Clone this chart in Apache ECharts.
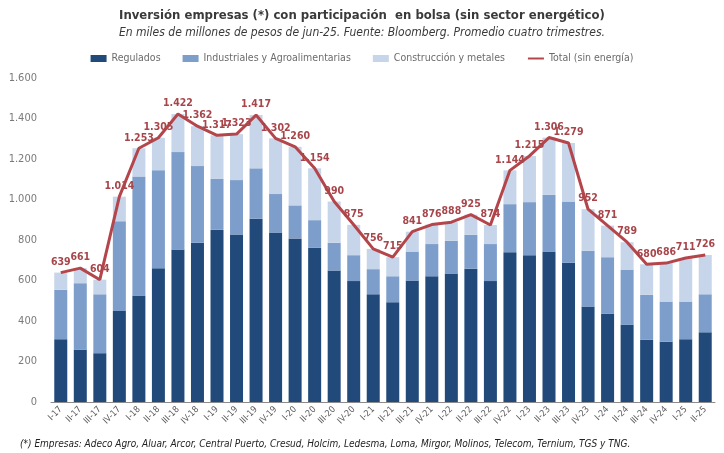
<!DOCTYPE html>
<html>
<head>
<meta charset="utf-8">
<title>Inversión empresas con participación en bolsa</title>
<script src="https://cdn.jsdelivr.net/npm/echarts@6/dist/echarts.min.js"></script>
<style>
    html, body { margin: 0; padding: 0; background: #fff; }
    #main { width: 724px; height: 453px; }
</style>
</head>
<body>
<div id="main"></div>
<script>
    // trimestres
    var categorias = ['I-17','II-17','III-17','IV-17','I-18','II-18','III-18','IV-18','I-19','II-19','III-19','IV-19',
        'I-20','II-20','III-20','IV-20','I-21','II-21','III-21','IV-21','I-22','II-22','III-22','IV-22',
        'I-23','II-23','III-23','IV-23','I-24','II-24','III-24','IV-24','I-25','II-25'];

    var regulados = [310,259,241,450,526,661,753,786,850,827,905,837,808,761,649,597,532,493,600,621,634,658,597,740,
        725,743,687,471,435,381,307,298,310,344];

    var industriales = [244,328,291,443,588,484,481,379,253,269,249,190,163,137,137,128,124,128,143,159,162,168,183,237,
        262,280,303,276,280,273,222,198,186,188];

    var total = [639,661,604,1014,1253,1305,1422,1362,1317,1323,1417,1302,1260,1154,990,875,756,715,841,876,888,925,874,1144,
        1215,1306,1279,952,871,789,680,686,711,726];

    // construccion = total - regulados - industriales
    var construccion = [];
    for (var i = 0; i < total.length; i++) {
        construccion.push(total[i] - regulados[i] - industriales[i]);
    }

    function miles(v) {
        return String(v).replace(/\B(?=(\d{3})+(?!\d))/g, '.');
    }

    var fuente = "'Liberation Sans Narrow', 'DejaVu Sans Condensed', sans-serif";

    var myChart = echarts.init(document.getElementById('main'));

    var option = {
        backgroundColor: '#ffffff',
        textStyle: { fontFamily: fuente },
        title: [
            {
                text: 'Inversión empresas (*) con participación  en bolsa (sin sector energético)',
                left: 'center',
                top: 4,
                textStyle: { fontSize: 13, fontWeight: 'bold', color: '#3a3a3a', fontFamily: fuente }
            },
            {
                text: 'En miles de millones de pesos de jun-25. Fuente: Bloomberg. Promedio cuatro trimestres.',
                left: 'center',
                top: 22,
                textStyle: { fontSize: 12, fontStyle: 'italic', fontWeight: 'normal', color: '#3a3a3a', fontFamily: fuente }
            },
            {
                text: '(*) Empresas: Adeco Agro, Aluar, Arcor, Central Puerto, Cresud, Holcim, Ledesma, Loma, Mirgor, Molinos, Telecom, Ternium, TGS y TNG.',
                left: 15,
                top: 434,
                textStyle: { fontSize: 10, fontStyle: 'italic', fontWeight: 'normal', color: '#222', fontFamily: fuente }
            }
        ],
        legend: {
            top: 48,
            left: 'center',
            itemWidth: 16,
            itemHeight: 7,
            itemGap: 22,
            textStyle: { fontSize: 10.5, color: '#6b6b6b', fontFamily: fuente },
            data: [
                { name: 'Regulados', icon: 'rect' },
                { name: 'Industriales y Agroalimentarias', icon: 'rect' },
                { name: 'Construcción y metales', icon: 'rect' },
                { name: 'Total (sin energía)', itemStyle: { opacity: 0 } }
            ]
        },
        grid: {
            left: 51,
            right: 9,
            top: 78,
            bottom: 51
        },
        xAxis: {
            type: 'category',
            data: categorias,
            axisLine: { lineStyle: { color: '#8c8c8c' } },
            axisTick: { show: false },
            axisLabel: {
                rotate: 45,
                interval: 0,
                fontSize: 9,
                color: '#595959',
                margin: 6,
                fontFamily: fuente
            }
        },
        yAxis: {
            type: 'value',
            min: 0,
            max: 1600,
            interval: 200,
            splitLine: { show: false },
            axisLine: { show: false },
            axisTick: { show: false },
            axisLabel: {
                fontSize: 11,
                color: '#7a7a7a',
                margin: 14,
                fontFamily: fuente,
                formatter: function (v) { return miles(v); }
            }
        },
        series: [
            {
                name: 'Regulados',
                type: 'bar',
                stack: 'inv',
                barWidth: 13,
                itemStyle: { color: '#214a7b' },
                data: regulados
            },
            {
                name: 'Industriales y Agroalimentarias',
                type: 'bar',
                stack: 'inv',
                itemStyle: { color: '#7d9ecb' },
                data: industriales
            },
            {
                name: 'Construcción y metales',
                type: 'bar',
                stack: 'inv',
                itemStyle: { color: '#c6d5e9' },
                data: construccion
            },
            {
                name: 'Total (sin energía)',
                type: 'line',
                data: total,
                symbol: 'circle',
                symbolSize: 0,
                showSymbol: true,
                z: 5,
                lineStyle: { color: '#b4464b', width: 3 },
                itemStyle: { color: '#b4464b' },
                label: {
                    show: true,
                    position: 'top',
                    distance: 5,
                    fontSize: 10.5,
                    fontWeight: 'bold',
                    color: '#a8454a',
                    fontFamily: "'DejaVu Sans Condensed', 'DejaVu Sans', sans-serif",
                    formatter: function (p) { return miles(p.value); }
                }
            }
        ]
    };

    myChart.setOption(option);
</script>
</body>
</html>
